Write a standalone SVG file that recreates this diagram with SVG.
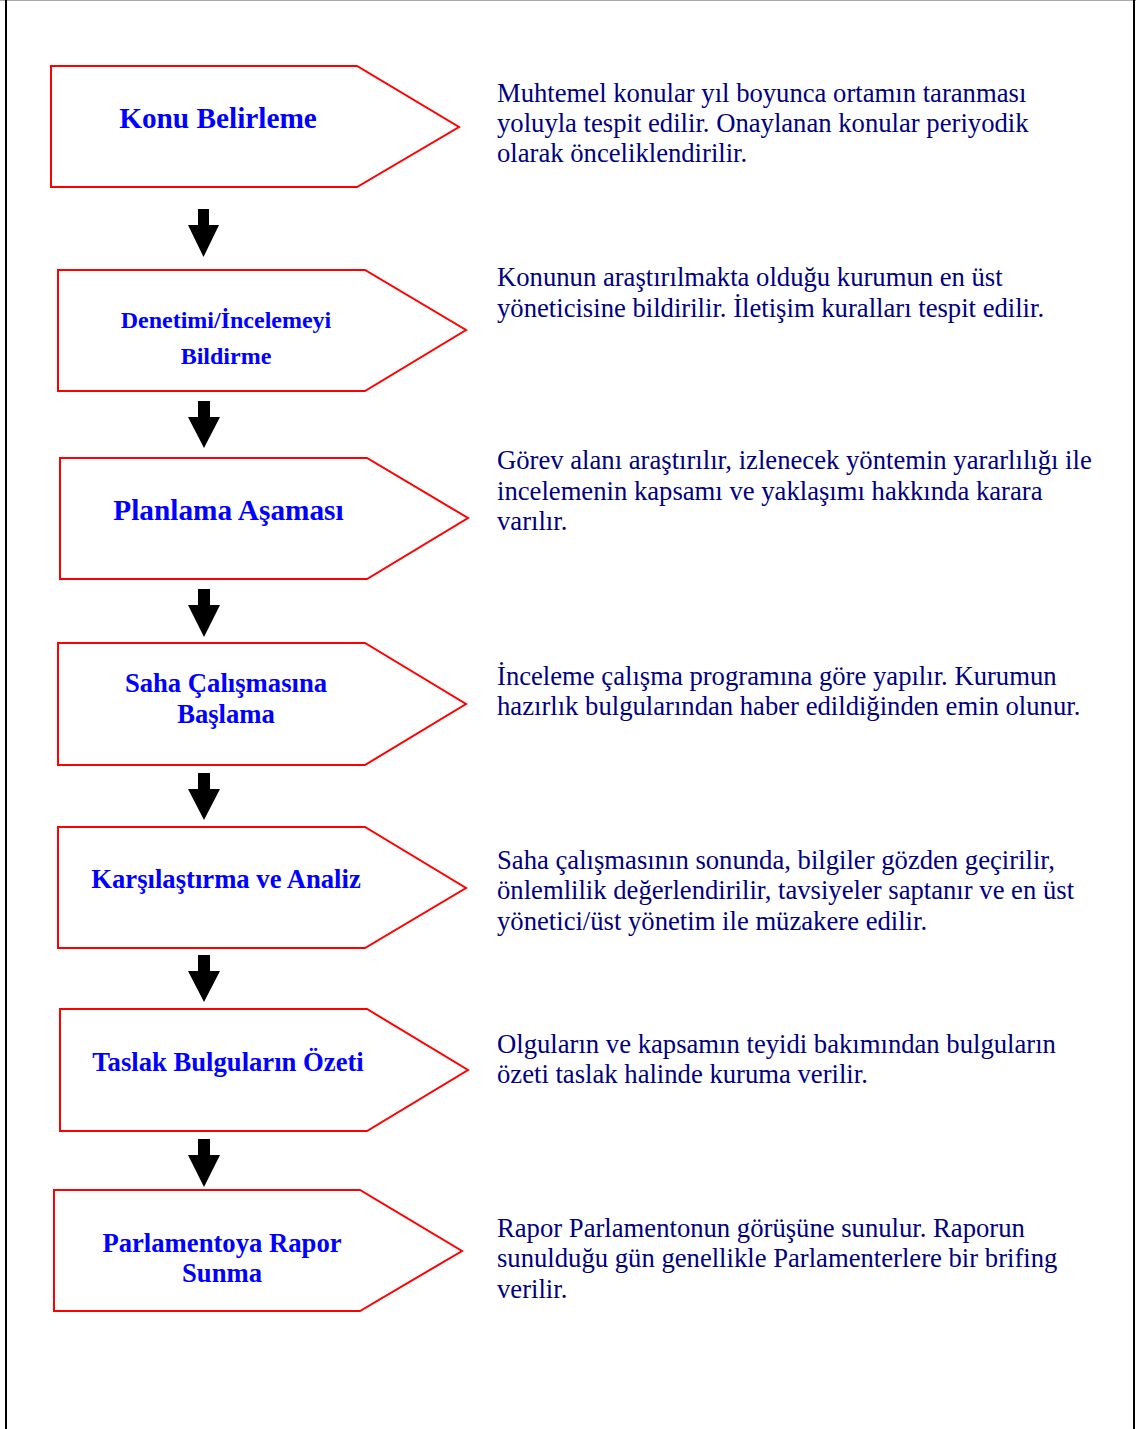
<svg xmlns="http://www.w3.org/2000/svg" width="1136" height="1429" viewBox="0 0 1136 1429">
<style>
.node{fill:#fff;stroke:#ff0000;stroke-width:2}
.lbl{font-family:"Liberation Serif","Times New Roman",serif;font-weight:bold;fill:#0000ff;text-anchor:middle;font-size:26.67px}
.desc{font-family:"Liberation Serif","Times New Roman",serif;fill:#000080;font-size:26.67px}
.arr{fill:#000}
</style>
<rect x="0" y="0" width="1136" height="1429" fill="#fff"/>
<line x1="0" y1="0.5" x2="1136" y2="0.5" stroke="#aaa" stroke-width="1"/>
<line x1="6" y1="0" x2="6" y2="1429" stroke="#000" stroke-width="2"/>
<line x1="1134" y1="0" x2="1134" y2="1429" stroke="#000" stroke-width="2"/>

<g id="n1"><polygon class="node" points="51,66 357,66 459,127 357,187 51,187"/><text class="lbl" x="218" y="128" style="font-size:29.3px">Konu Belirleme</text></g>
<g id="n2"><polygon class="node" points="58,270 365,270 466,330 365,391 58,391"/><text class="lbl" x="226" y="328" style="font-size:24px">Denetimi/İncelemeyi</text><text class="lbl" x="226" y="364" style="font-size:24px">Bildirme</text></g>
<g id="n3"><polygon class="node" points="60,458 367,458 468,518 367,579 60,579"/><text class="lbl" x="228.5" y="520" style="font-size:29.3px">Planlama Aşaması</text></g>
<g id="n4"><polygon class="node" points="58,643 365,643 466,704 365,765 58,765"/><text class="lbl" x="226" y="692">Saha Çalışmasına</text><text class="lbl" x="226" y="723">Başlama</text></g>
<g id="n5"><polygon class="node" points="58,827 365,827 466,888 365,948 58,948"/><text class="lbl" x="226" y="888">Karşılaştırma ve Analiz</text></g>
<g id="n6"><polygon class="node" points="60,1009 367,1009 468,1070 367,1131 60,1131"/><text class="lbl" x="228" y="1071">Taslak Bulguların Özeti</text></g>
<g id="n7"><polygon class="node" points="54,1190 360,1190 462,1251 360,1311 54,1311"/><text class="lbl" x="222" y="1252">Parlamentoya Rapor</text><text class="lbl" x="222" y="1282">Sunma</text></g>

<g id="d1" class="desc"><text x="497" y="102">Muhtemel konular yıl boyunca ortamın taranması</text><text x="497" y="132">yoluyla tespit edilir. Onaylanan konular periyodik</text><text x="497" y="162">olarak önceliklendirilir.</text></g>
<g id="d2" class="desc"><text x="497" y="286">Konunun araştırılmakta olduğu kurumun en üst</text><text x="497" y="317">yöneticisine bildirilir. İletişim kuralları tespit edilir.</text></g>
<g id="d3" class="desc"><text x="497" y="469">Görev alanı araştırılır, izlenecek yöntemin yararlılığı ile</text><text x="497" y="500">incelemenin kapsamı ve yaklaşımı hakkında karara</text><text x="497" y="530">varılır.</text></g>
<g id="d4" class="desc"><text x="497" y="685">İnceleme çalışma programına göre yapılır. Kurumun</text><text x="497" y="715">hazırlık bulgularından haber edildiğinden emin olunur.</text></g>
<g id="d5" class="desc"><text x="497" y="869">Saha çalışmasının sonunda, bilgiler gözden geçirilir,</text><text x="497" y="899">önlemlilik değerlendirilir, tavsiyeler saptanır ve en üst</text><text x="497" y="930">yönetici/üst yönetim ile müzakere edilir.</text></g>
<g id="d6" class="desc"><text x="497" y="1053">Olguların ve kapsamın teyidi bakımından bulguların</text><text x="497" y="1083">özeti taslak halinde kuruma verilir.</text></g>
<g id="d7" class="desc"><text x="497" y="1237">Rapor Parlamentonun görüşüne sunulur. Raporun</text><text x="497" y="1267">sunulduğu gün genellikle Parlamenterlere bir brifing</text><text x="497" y="1298">verilir.</text></g>

<g id="connectors" class="arr">
<polygon points="198,209 209,209 209,225 219,225 203.5,257 188,225 198,225"/>
<polygon points="198,401 210,401 210,417 220,417 204,448 188,417 198,417"/>
<polygon points="198,589 210,589 210,605 220,605 204,637 188,605 198,605"/>
<polygon points="198,773 210,773 210,789 220,789 204,820 188,789 198,789"/>
<polygon points="198,955 210,955 210,971 220,971 204,1002 188,971 198,971"/>
<polygon points="198,1139 210,1139 210,1155 220,1155 204,1187 188,1155 198,1155"/>
</g>
</svg>
